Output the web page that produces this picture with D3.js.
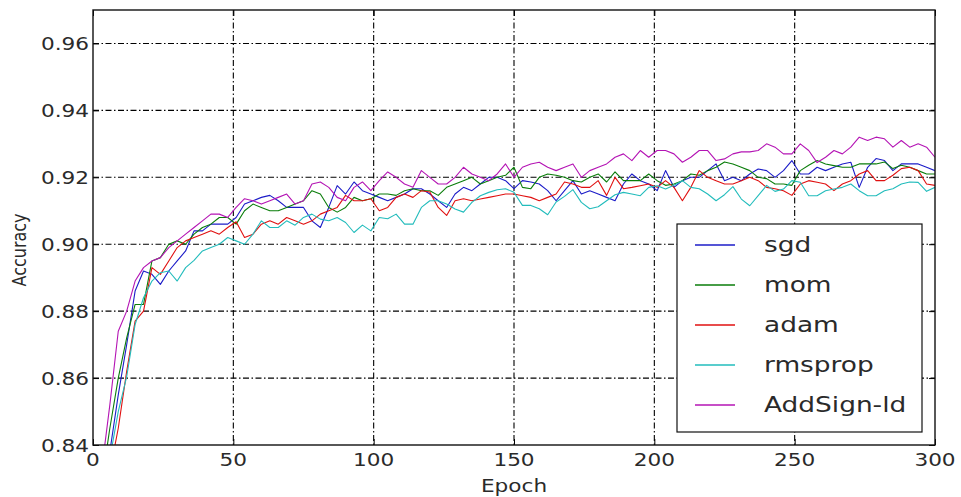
<!DOCTYPE html>
<html><head><meta charset="utf-8">
<script src="https://cdn.jsdelivr.net/npm/d3@7/dist/d3.min.js"></script>
<style>
html,body{margin:0;padding:0;background:#fff;}
svg{display:block;}
text{font-family:"DejaVu Sans",sans-serif;fill:#2a2a2a;}
</style></head>
<body>
<svg id="chart" width="961" height="497"></svg>
<script>
// epochs sampled every 3
const epochs = d3.range(3, 301, 3);
const seriesNames = ["sgd", "mom", "adam", "rmsprop", "AddSign-ld"];
const xTicks = [0, 50, 100, 150, 200, 250, 300];
const yTicks = [0.84, 0.86, 0.88, 0.90, 0.92, 0.94, 0.96];

const sgd = [0.825,0.838,0.855,0.870,0.886,0.892,0.891,0.888,0.892,0.895,0.898,0.904,0.904,0.906,0.906,0.906,0.908,0.912,0.913,0.914,
0.9146,0.913,0.911,0.911,0.911,0.907,0.905,0.911,0.9175,0.915,0.9186,0.916,0.915,0.914,0.913,0.914,0.915,0.9166,0.9166,0.915,
0.913,0.911,0.915,0.917,0.916,0.918,0.920,0.920,0.919,0.9166,0.919,0.9186,0.918,0.916,0.913,0.916,0.919,0.915,0.916,0.915,
0.914,0.913,0.918,0.921,0.919,0.918,0.916,0.922,0.917,0.919,0.920,0.920,0.922,0.924,0.919,0.920,0.919,0.921,0.9225,0.922,
0.920,0.922,0.925,0.921,0.921,0.923,0.922,0.923,0.924,0.9245,0.917,0.923,0.9256,0.925,0.922,0.924,0.924,0.924,0.923,0.922];

const mom = [0.828,0.845,0.860,0.872,0.882,0.882,0.895,0.896,0.900,0.901,0.900,0.903,0.905,0.906,0.908,0.908,0.906,0.910,0.912,0.911,
0.910,0.910,0.911,0.912,0.913,0.916,0.915,0.911,0.9096,0.911,0.914,0.913,0.9136,0.915,0.915,0.9146,0.916,0.9166,0.916,0.916,
0.9146,0.917,0.918,0.919,0.920,0.918,0.919,0.920,0.9206,0.923,0.917,0.9166,0.920,0.921,0.9206,0.920,0.919,0.9186,0.920,0.921,
0.9186,0.9216,0.919,0.919,0.919,0.921,0.919,0.9176,0.918,0.919,0.921,0.9206,0.922,0.923,0.9246,0.924,0.923,0.922,0.920,0.9196,
0.918,0.918,0.9176,0.922,0.9236,0.925,0.924,0.9235,0.923,0.923,0.924,0.924,0.924,0.9246,0.9226,0.9236,0.923,0.922,0.921,0.921];

const adam = [0.820,0.832,0.845,0.862,0.877,0.880,0.893,0.891,0.895,0.899,0.901,0.902,0.903,0.904,0.903,0.905,0.9067,0.902,0.903,0.906,
0.907,0.906,0.908,0.907,0.906,0.907,0.909,0.910,0.911,0.9146,0.913,0.913,0.9136,0.910,0.911,0.914,0.915,0.914,0.916,0.9156,
0.911,0.9086,0.913,0.9136,0.913,0.9135,0.914,0.9145,0.915,0.915,0.9145,0.914,0.913,0.914,0.915,0.9186,0.918,0.917,0.917,0.919,
0.9146,0.920,0.9166,0.917,0.9175,0.918,0.917,0.919,0.917,0.913,0.917,0.922,0.920,0.919,0.918,0.918,0.919,0.920,0.919,0.917,
0.9166,0.916,0.9146,0.918,0.919,0.9185,0.918,0.916,0.918,0.919,0.921,0.922,0.919,0.919,0.9206,0.9226,0.923,0.922,0.918,0.9176];

const rmsprop = [0.822,0.836,0.850,0.8604,0.876,0.884,0.889,0.8915,0.892,0.889,0.893,0.8952,0.898,0.899,0.900,0.902,0.901,0.900,0.903,0.907,
0.905,0.905,0.907,0.9057,0.908,0.909,0.9075,0.907,0.908,0.9065,0.9035,0.9057,0.904,0.908,0.9076,0.909,0.906,0.906,0.911,0.913,
0.913,0.912,0.9105,0.9096,0.9125,0.9145,0.9155,0.9163,0.9166,0.9155,0.9116,0.9116,0.9106,0.9088,0.9126,0.9143,0.9163,0.9125,0.9106,0.9112,
0.913,0.9148,0.9155,0.915,0.9145,0.917,0.9175,0.9165,0.9176,0.919,0.917,0.9166,0.915,0.913,0.9148,0.9172,0.9135,0.9115,0.9145,0.9176,
0.9158,0.9165,0.919,0.9185,0.9145,0.9145,0.916,0.9165,0.917,0.918,0.916,0.9145,0.9145,0.916,0.9166,0.918,0.9186,0.9185,0.9158,0.917];

const addsign = [0.832,0.852,0.874,0.880,0.889,0.893,0.895,0.896,0.899,0.901,0.903,0.905,0.907,0.909,0.909,0.908,0.911,0.9136,0.913,0.912,
0.913,0.914,0.915,0.912,0.913,0.918,0.9186,0.917,0.914,0.913,0.917,0.9186,0.916,0.919,0.9216,0.920,0.918,0.917,0.922,0.920,
0.918,0.918,0.920,0.923,0.921,0.920,0.919,0.921,0.924,0.920,0.923,0.924,0.9245,0.923,0.922,0.923,0.924,0.920,0.922,0.923,
0.924,0.926,0.927,0.925,0.928,0.926,0.928,0.928,0.927,0.9245,0.926,0.928,0.928,0.925,0.9255,0.927,0.9276,0.9276,0.928,0.930,
0.929,0.927,0.927,0.930,0.928,0.9244,0.926,0.928,0.927,0.929,0.932,0.931,0.932,0.9315,0.929,0.931,0.929,0.930,0.929,0.926];

const seriesValues = [sgd, mom, adam, rmsprop, addsign];
const colors = ["#1c1cc8", "#0a7d0a", "#e01010", "#22bcbc", "#b414b4"];

const svg = d3.select("#chart");
const L = 93, R = 935, T = 10, B = 445;
const SX = 1.2; // horizontal glyph stretch

const x = d3.scaleLinear().domain([0, 300]).range([L, R]);
const y = d3.scaleLinear().domain([0.84, 0.97]).range([B, T]);

svg.append("defs").append("clipPath").attr("id", "clip")
  .append("rect").attr("x", L).attr("y", T).attr("width", R - L).attr("height", B - T);

// grid
const dash = "6,2.5,1.5,2.5";
const grid = svg.append("g");
grid.selectAll("line.gx").data(xTicks.filter(t => t > 0 && t < 300)).enter().append("line")
  .attr("x1", d => x(d)).attr("x2", d => x(d)).attr("y1", T).attr("y2", B)
  .attr("stroke", "#000").attr("stroke-width", 1.1).attr("stroke-dasharray", dash);
grid.selectAll("line.gy").data(yTicks.filter(t => t > 0.845)).enter().append("line")
  .attr("x1", L).attr("x2", R).attr("y1", d => y(d)).attr("y2", d => y(d))
  .attr("stroke", "#000").attr("stroke-width", 1.1).attr("stroke-dasharray", dash);

// lines
const line = d3.line().x((d, i) => x(epochs[i])).y(d => y(d));
const lines = svg.append("g").attr("clip-path", "url(#clip)");
seriesValues.forEach((vals, k) => {
  lines.append("path").datum(vals).attr("d", line)
    .attr("fill", "none").attr("stroke", colors[k]).attr("stroke-width", 1.1)
    .attr("stroke-linejoin", "round");
});

// axes via d3 (ticks inside, no labels), then custom stretched labels
const tickLen = 6;
svg.append("g").attr("transform", `translate(0,${B})`)
  .call(d3.axisBottom(x).tickValues(xTicks).tickSize(-tickLen).tickFormat(""))
  .call(g => g.select(".domain").remove())
  .selectAll("line").attr("stroke", "#000");
svg.append("g").attr("transform", `translate(0,${T})`)
  .call(d3.axisTop(x).tickValues(xTicks).tickSize(-tickLen).tickFormat(""))
  .call(g => g.select(".domain").remove())
  .selectAll("line").attr("stroke", "#000");
svg.append("g").attr("transform", `translate(${L},0)`)
  .call(d3.axisLeft(y).tickValues(yTicks).tickSize(-tickLen).tickFormat(""))
  .call(g => g.select(".domain").remove())
  .selectAll("line").attr("stroke", "#000");
svg.append("g").attr("transform", `translate(${R},0)`)
  .call(d3.axisRight(y).tickValues(yTicks).tickSize(-tickLen).tickFormat(""))
  .call(g => g.select(".domain").remove())
  .selectAll("line").attr("stroke", "#000");

// frame
svg.append("rect").attr("x", L).attr("y", T).attr("width", R - L).attr("height", B - T)
  .attr("fill", "none").attr("stroke", "#111").attr("stroke-width", 1.4);

const fmt = d3.format(".2f");
// y tick labels
svg.append("g").selectAll("text").data(yTicks).enter().append("text")
  .attr("transform", d => `translate(${L - 4},${y(d) + 6.5}) scale(${SX},1)`)
  .attr("text-anchor", "end").attr("font-size", 18).text(d => fmt(d));
// x tick labels
svg.append("g").selectAll("text").data(xTicks).enter().append("text")
  .attr("transform", d => `translate(${x(d)},${B + 21}) scale(${SX},1)`)
  .attr("text-anchor", "middle").attr("font-size", 18).text(d => d);

// axis titles
svg.append("text").attr("transform", `translate(${(L + R) / 2},${B + 47}) scale(${SX},1)`)
  .attr("text-anchor", "middle").attr("font-size", 18).text("Epoch");
svg.append("text").attr("transform", `translate(26,250) scale(${SX},1) rotate(-90)`)
  .attr("text-anchor", "middle").attr("font-size", 16).text("Accuracy");

// legend
const lg = svg.append("g");
lg.append("rect").attr("x", 677).attr("y", 224).attr("width", 245).attr("height", 208)
  .attr("fill", "#fff").attr("stroke", "#111").attr("stroke-width", 1.2);
seriesNames.forEach((n, k) => {
  const cy = 245 + k * 40;
  lg.append("line").attr("x1", 695).attr("x2", 735).attr("y1", cy).attr("y2", cy)
    .attr("stroke", colors[k]).attr("stroke-width", 1.3);
  lg.append("text").attr("transform", `translate(764,${cy + 7}) scale(${SX},1)`)
    .attr("font-size", 22).text(n);
});
</script>
</body></html>
